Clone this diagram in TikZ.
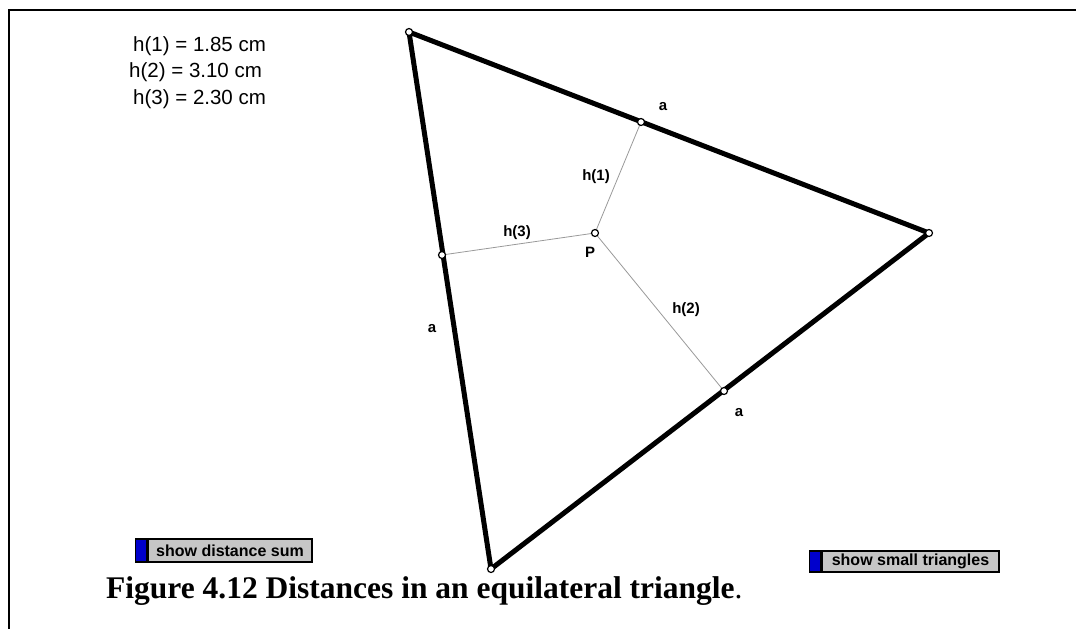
\documentclass[tikz,border=0pt]{standalone}
\usepackage{fontspec}
\setmainfont{Liberation Serif}
\setsansfont{Liberation Sans}
\usetikzlibrary{positioning}

\begin{document}
\begin{tikzpicture}[x=1pt, y=-1pt,
    side edge/.style={line width=5pt, line cap=round, line join=round},
    dist edge/.style={draw=gray!80, line width=0.8pt},
    geo point/.style={circle, draw=black, fill=white, line width=1.2pt, minimum size=7pt, inner sep=0pt},
    geo label/.style={font=\sffamily\bfseries\fontsize{15}{17}\selectfont, inner sep=0pt},
    value text/.style={font=\sffamily\fontsize{20.5}{24}\selectfont, anchor=west, inner sep=0pt},
    button box/.style={draw=black, line width=1.5pt, fill=gray!45, inner sep=0pt, font=\sffamily\bfseries\fontsize{16}{18}\selectfont},
    button tab/.style={draw=black, line width=1.5pt, fill=blue!80!black, inner sep=0pt, minimum width=11pt}
]
    \useasboundingbox (0,0) rectangle (1076,629);

    % Rahmen
    \draw[line width=2pt] (1076,10) -- (9,10) -- (9,629);

    % Messwerte
    \node[value text] (val1) at (133,46) {h(1) = 1.85 cm};
    \node[value text] (val2) at (129,72) {h(2) = 3.10 cm};
    \node[value text] (val3) at (133,99) {h(3) = 2.30 cm};

    % Ecken, Punkt P und Lotfusspunkte
    \coordinate (A) at (409,32);
    \coordinate (B) at (929,233);
    \coordinate (C) at (491,569);
    \coordinate (P) at (595,233);
    \coordinate (F1) at (641,122);
    \coordinate (F2) at (724,391);
    \coordinate (F3) at (442,255);

    % Abstaende
    \draw[dist edge] (P) -- (F1);
    \draw[dist edge] (P) -- (F2);
    \draw[dist edge] (P) -- (F3);

    % Dreieck
    \draw[side edge] (A) -- (B) -- (C) -- cycle;

    \foreach \p in {A, B, C, P, F1, F2, F3}
        \node[geo point] (pt\p) at (\p) {};

    % Beschriftungen
    \node[geo label] (labA1) at (663,107) {a};
    \node[geo label] (labA2) at (739,413) {a};
    \node[geo label] (labA3) at (432,329) {a};
    \node[geo label] (labH1) at (596,177) {h(1)};
    \node[geo label] (labH2) at (686,310) {h(2)};
    \node[geo label] (labH3) at (517,233) {h(3)};
    \node[geo label] (labP)  at (590,252) {P};

    % Schaltflaechen
    \node[button box, minimum width=164pt, minimum height=23pt] (btnSum) at (230,550.5) {show distance sum};
    \node[button tab, minimum height=23pt, anchor=east] (tabSum) at (btnSum.west) {};
    \node[button box, minimum width=177pt, minimum height=21pt] (btnTri) at (910.5,561.5) {show small triangles};
    \node[button tab, minimum height=21pt, anchor=east] (tabTri) at (btnTri.west) {};

    % Bildunterschrift
    \node[anchor=base west, inner sep=0pt, font=\fontsize{31.5}{35}\selectfont] (caption) at (106,598)
        {\textbf{Figure 4.12 Distances in an equilateral triangle}.};
\end{tikzpicture}
\end{document}
